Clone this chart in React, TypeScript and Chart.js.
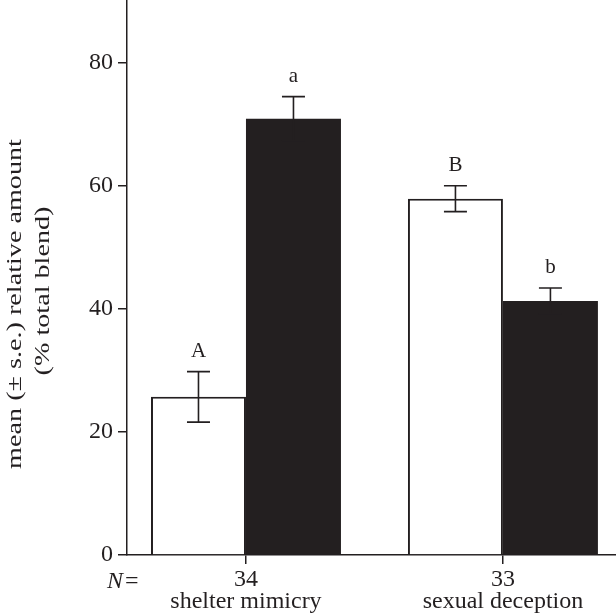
import React, { useEffect, useRef } from "react";
import { Chart, registerables } from "chart.js";

Chart.register(...registerables);

const categories = ["shelter mimicry", "sexual deception"];
const sampleSizes = ["34", "33"];
const categoryPositions = [0, 1];
const openMeans = [25.7, 57.9];
const openSE = [4.1, 2.1];
const filledMeans = [70.9, 41.3];
const filledSE = [3.6, 2.1];
const openLetters = ["A", "B"];
const filledLetters = ["a", "b"];
const yTicks = [0, 20, 40, 60, 80];
const yTitleLines = ["mean (\u00b1 s.e.) relative amount", "(% total blend)"];

const INK = "#231f20";
const FONT = "'Liberation Serif', 'Times New Roman', serif";
const TITLE_X = [21, 49];
const TITLE_Y = [304, 291];

const extrasPlugin = {
  id: "extras",
  afterDatasetsDraw(chart: any) {
    const { ctx, scales } = chart;
    const y = scales.y;
    const sets = [
      { se: openSE, letters: openLetters, idx: 0 },
      { se: filledSE, letters: filledLetters, idx: 1 },
    ];
    ctx.save();
    sets.forEach((s) => {
      const meta = chart.getDatasetMeta(s.idx);
      meta.data.forEach((bar: any, i: number) => {
        const mean = (chart.data.datasets[s.idx].data[i] as any).y;
        const top = y.getPixelForValue(mean + s.se[i]);
        const bot = y.getPixelForValue(mean - s.se[i]);
        const cx = bar.x;
        ctx.strokeStyle = INK;
        ctx.lineWidth = 1.6;
        ctx.beginPath();
        ctx.moveTo(cx, top);
        ctx.lineTo(cx, bot);
        ctx.moveTo(cx - 11.5, top);
        ctx.lineTo(cx + 11.5, top);
        ctx.moveTo(cx - 11.5, bot);
        ctx.lineTo(cx + 11.5, bot);
        ctx.stroke();
        ctx.fillStyle = INK;
        ctx.font = `21px ${FONT}`;
        ctx.textAlign = "center";
        ctx.textBaseline = "alphabetic";
        ctx.fillText(s.letters[i], cx, top - 15);
      });
    });
    // y title
    ctx.fillStyle = INK;
    ctx.font = `22px ${FONT}`;
    ctx.textAlign = "center";
    ctx.textBaseline = "alphabetic";
    yTitleLines.forEach((line, i) => {
      ctx.save();
      ctx.translate(TITLE_X[i], TITLE_Y[i]);
      ctx.rotate(-Math.PI / 2);
      ctx.scale(1.28, 1);
      ctx.fillText(line, 0, 0);
      ctx.restore();
    });
    // N=
    ctx.textBaseline = "alphabetic";
    ctx.textAlign = "left";
    ctx.font = `italic 24px ${FONT}`;
    ctx.fillText("N", 107, 588);
    ctx.font = `24px ${FONT}`;
    ctx.fillText("=", 125, 588);
    ctx.restore();
  },
};

export default function App() {
  const ref = useRef<HTMLCanvasElement>(null);
  useEffect(() => {
    if (!ref.current) return;
    const chart = new Chart(ref.current, {
      type: "bar",
      data: {
        datasets: [
          {
            label: "open",
            data: categoryPositions.map((x, i) => ({ x, y: openMeans[i] })),
            backgroundColor: "#ffffff",
            borderColor: INK,
            borderWidth: 2,
            borderSkipped: "start",
          },
          {
            label: "filled",
            data: categoryPositions.map((x, i) => ({ x, y: filledMeans[i] })),
            backgroundColor: INK,
            borderColor: INK,
            borderWidth: 0,
          },
        ],
      } as any,
      options: {
        responsive: false,
        animation: false,
        events: [],
        layout: { padding: 0 },
        datasets: {
          bar: { categoryPercentage: 190 / 257, barPercentage: 1 },
        } as any,
        plugins: { legend: { display: false }, tooltip: { enabled: false }, title: { display: false } },
        scales: {
          x: {
            type: "linear",
            offset: false,
            bounds: "data",
            min: -0.463,
            max: 1.44,
            afterBuildTicks: (scale: any) => {
              scale.ticks = categoryPositions.map((v) => ({ value: v }));
            },
            afterFit: (scale: any) => {
              scale.height = 60;
              scale.paddingLeft = 0;
              scale.paddingRight = 0;
            },
            ticks: {
              autoSkip: false,
              maxRotation: 0,
              padding: 5,
              color: INK,
              font: { family: FONT, size: 24, lineHeight: 0.92 },
              callback: (v: any) => {
                const i = categoryPositions.indexOf(Number(v));
                return i >= 0 ? [sampleSizes[i], categories[i]] : "";
              },
            },
            grid: { offset: false, drawOnChartArea: false, drawTicks: true, tickLength: 9, color: INK, lineWidth: 1.5 },
            border: { display: true, color: INK, width: 1.5 },
          },
          y: {
            min: 0,
            max: 90.2,
            afterBuildTicks: (scale: any) => {
              scale.ticks = yTicks.map((v) => ({ value: v }));
            },
            afterFit: (scale: any) => {
              scale.width = 127;
              scale.paddingTop = 0;
              scale.paddingBottom = 0;
            },
            ticks: {
              padding: 5,
              color: INK,
              font: { family: FONT, size: 24 },
            },
            grid: { drawOnChartArea: false, drawTicks: true, tickLength: 9, color: INK, lineWidth: 1.5 },
            border: { display: true, color: INK, width: 1.5 },
          },
        },
      } as any,
      plugins: [extrasPlugin],
    });
    return () => chart.destroy();
  }, []);
  return (
    <div style={{ position: "absolute", left: 0, top: 0, width: 616, height: 615, background: "#fff" }}>
      <canvas ref={ref} width={616} height={615} style={{ display: "block" }} />
    </div>
  );
}
